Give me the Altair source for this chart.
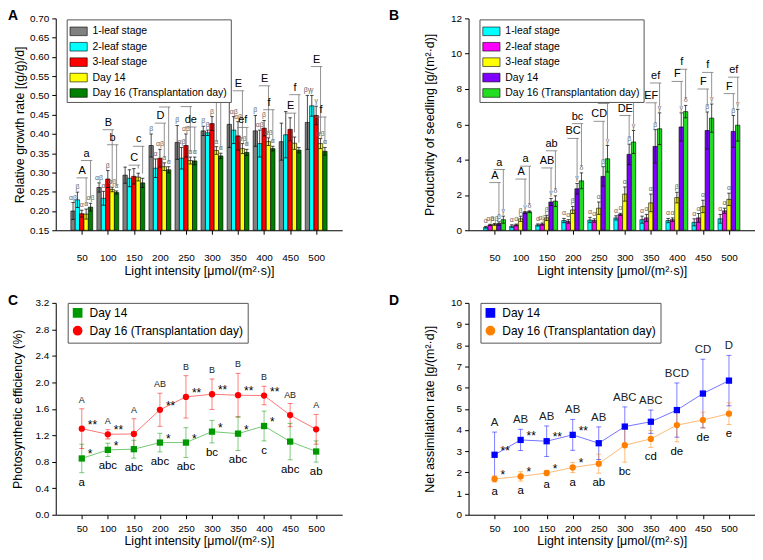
import altair as alt
import pandas as pd

FONT = "Liberation Sans"
light = [50, 100, 150, 200, 250, 300, 350, 400, 450, 500]
x_title = "Light intensity [μmol/(m²·s)]"

# ---------------- Panel A ----------------
a_series = ["1-leaf stage", "2-leaf stage", "3-leaf stage", "Day 14", "Day 16 (Transplantation day)"]
a_colors = ["#808080", "#00FFFF", "#FF0000", "#FFFF00", "#008000"]
a_leaf1 = [0.200, 0.261, 0.293, 0.370, 0.378, 0.408, 0.425, 0.408, 0.380, 0.430]
a_leaf2 = [0.229, 0.233, 0.285, 0.311, 0.337, 0.403, 0.410, 0.375, 0.398, 0.473]
a_leaf3 = [0.193, 0.283, 0.290, 0.337, 0.370, 0.427, 0.395, 0.415, 0.412, 0.448]
a_day14 = [0.192, 0.256, 0.288, 0.315, 0.331, 0.357, 0.362, 0.380, 0.376, 0.375]
a_day16 = [0.210, 0.248, 0.273, 0.307, 0.330, 0.343, 0.352, 0.362, 0.358, 0.355]
a_leaf1_err = [0.022, 0.012, 0.021, 0.030, 0.044, 0.012, 0.060, 0.040, 0.048, 0.070]
a_leaf2_err = [0.020, 0.018, 0.022, 0.024, 0.028, 0.007, 0.035, 0.035, 0.060, 0.027]
a_leaf3_err = [0.009, 0.022, 0.020, 0.023, 0.030, 0.018, 0.037, 0.020, 0.030, 0.024]
a_day14_err = [0.013, 0.006, 0.010, 0.010, 0.009, 0.010, 0.013, 0.010, 0.016, 0.013]
a_day16_err = [0.010, 0.004, 0.012, 0.008, 0.010, 0.007, 0.008, 0.006, 0.007, 0.010]
a_leaf1_sig = ["αβ", "αβ", "", "β", "β", "β", "β", "β", "", "βγ"]
a_leaf2_sig = ["β", "α", "", "α", "αβ", "β", "αβ", "αβ", "", "γ"]
a_leaf3_sig = ["α", "β", "", "αβ", "αβ", "β", "αβ", "β", "", "γ"]
a_day14_sig = ["α", "αβ", "", "α", "α", "α", "αβ", "αβ", "", "αβ"]
a_day16_sig = ["αβ", "α", "", "α", "α", "α", "α", "α", "", "α"]
a_upper = ["A", "B", "C", "D", "D", "E", "E", "E", "E", "E"]
a_upper_level = [0.286, 0.411, 0.319, 0.428, 0.471, 0.484, 0.512, 0.525, 0.454, 0.575]
a_lower = ["a", "b", "c", "d", "de", "ef", "ef", "f", "f", "f"]
a_lower_level = [0.331, 0.372, 0.368, 0.470, 0.418, 0.521, 0.417, 0.463, 0.502, 0.444]

# ---------------- Panel B ----------------
b_series = ["1-leaf stage", "2-leaf stage", "3-leaf stage", "Day 14", "Day 16 (Transplantation day)"]
b_colors = ["#00FFFF", "#FF00FF", "#FFFF00", "#7F00FF", "#22DD22"]
b_leaf1 = [0.17, 0.23, 0.30, 0.55, 0.58, 0.70, 0.60, 0.55, 0.45, 0.65]
b_leaf2 = [0.30, 0.30, 0.35, 0.50, 0.55, 0.90, 0.70, 0.60, 0.70, 1.10]
b_leaf3 = [0.33, 0.65, 0.70, 1.15, 1.25, 2.05, 1.55, 1.85, 1.35, 1.75]
b_day14 = [0.38, 1.00, 1.60, 2.35, 3.05, 4.30, 4.75, 5.85, 5.65, 5.60]
b_day16 = [0.60, 1.05, 1.65, 2.80, 4.05, 5.00, 5.75, 6.72, 6.35, 5.95]
b_leaf1_err = [0.05, 0.08, 0.06, 0.12, 0.15, 0.12, 0.20, 0.12, 0.20, 0.25]
b_leaf2_err = [0.04, 0.05, 0.06, 0.10, 0.10, 0.06, 0.20, 0.10, 0.25, 0.15]
b_leaf3_err = [0.05, 0.15, 0.15, 0.20, 0.35, 0.40, 0.50, 0.30, 0.35, 0.35]
b_day14_err = [0.10, 0.06, 0.20, 0.30, 0.55, 0.58, 0.95, 0.80, 1.05, 0.90]
b_day16_err = [0.20, 0.05, 0.30, 0.45, 0.75, 0.65, 0.90, 0.35, 0.80, 0.90]
b_leaf1_sig = ["α", "α", "α", "α", "α", "α", "α", "α", "α", "α"]
b_leaf2_sig = ["αβ", "α", "αβ", "α", "α", "α", "α", "α", "α", "α"]
b_leaf3_sig = ["αβ", "β", "β", "β", "α", "α", "α", "β", "α", "α"]
b_day14_sig = ["β", "γ", "γ", "γ", "β", "β", "β", "γ", "β", "β"]
b_day16_sig = ["γ", "δ", "δ", "δ", "γ", "γ", "γ", "δ", "γ", "γ"]
b_upper = ["A", "A", "AB", "BC", "CD", "DE", "EF", "F", "F", "F"]
b_upper_level = [2.70, 2.90, 3.53, 5.20, 6.17, 6.50, 7.22, 8.43, 8.00, 7.74]
b_lower = ["a", "a", "ab", "bc", "cd", "de", "ef", "f", "f", "ef"]
b_lower_level = [3.44, 3.63, 4.50, 6.04, 7.18, 7.50, 8.34, 9.12, 8.94, 8.67]

# ---------------- Panel C ----------------
c_series = ["Day 14", "Day 16 (Transplantation day)"]
c_marker_colors = ["#009900", "#FF0000"]
c_day14 = [0.85, 0.98, 0.99, 1.09, 1.09, 1.255, 1.225, 1.34, 1.105, 0.955]
c_day14_err = [0.215, 0.10, 0.135, 0.14, 0.225, 0.17, 0.255, 0.225, 0.275, 0.16]
c_day16 = [1.30, 1.215, 1.22, 1.585, 1.78, 1.82, 1.805, 1.80, 1.505, 1.29]
c_day16_err = [0.30, 0.07, 0.23, 0.25, 0.32, 0.23, 0.33, 0.14, 0.175, 0.225]
c_upper = ["A", "A", "A", "AB", "B", "B", "B", "B", "AB", "A"]
c_lower = ["a", "abc", "abc", "abc", "abc", "bc", "abc", "c", "abc", "ab"]
c_star16 = ["**", "**", "", "**", "**", "**", "**", "**", "", ""]
c_star14 = ["*", "*", "", "*", "*", "*", "*", "*", "", ""]

# ---------------- Panel D ----------------
d_series = ["Day 14", "Day 16 (Transplantation day)"]
d_marker_colors = ["#0000FF", "#FF8000"]
d_day14 = [2.83, 3.53, 3.47, 3.77, 3.375, 4.16, 4.39, 4.94, 5.72, 6.33]
d_day14_err = [1.07, 0.50, 0.72, 0.73, 0.77, 0.93, 0.55, 1.28, 1.62, 1.19]
d_day16 = [1.69, 1.81, 1.97, 2.23, 2.41, 3.28, 3.58, 4.23, 4.47, 4.77]
d_day16_err = [0.15, 0.22, 0.12, 0.24, 0.45, 0.80, 0.40, 0.79, 0.37, 0.51]
d_upper = ["A", "AB", "AB", "AB", "AB", "ABC", "ABC", "BCD", "CD", "D"]
d_lower = ["a", "a", "a", "a", "ab", "bc", "cd", "de", "de", "e"]
d_star14 = ["**", "**", "**", "**", "", "", "", "", "", ""]
d_star16 = ["*", "*", "*", "*", "", "", "", "", "", ""]

W, H = 288, 213
BAR_UNITS = 8.4   # bar spacing in x-axis units
xscale = alt.Scale(domain=[0, 550], nice=False, zero=False, padding=0)


def xaxis(label_pad, title_pad):
    return alt.Axis(values=light, format="d", title=x_title, tickSize=4, labelPadding=label_pad,
                    titlePadding=title_pad, labelFlush=False, labelOverlap=False)


def yaxis(title, values, fmt, tpad):
    return alt.Axis(values=values, format=fmt, title=title, tickSize=4, labelPadding=3,
                    titlePadding=tpad, labelOverlap=False)


def panel_title(letter, dx, offset):
    return alt.TitleParams(letter, anchor="start", frame="group", fontSize=14, fontWeight="bold",
                           font=FONT, offset=offset, dx=dx)


def bar_panel(series, colors, means, errs, sigs, upper, upper_lv, lower, lower_lv,
              ydom, yvals, yfmt, ytitle, letter, tpad, sig_gap, title_dx, lpad, xtpad, toff):
    rows = []
    for k, s in enumerate(series):
        for i, L in enumerate(light):
            rows.append(dict(light=L, series=s, k=k, mean=means[k][i], err=errs[k][i],
                             sig=sigs[k][i]))
    df = pd.DataFrame(rows)
    brows = []
    for i, L in enumerate(light):
        for lab, lv, k in ((upper[i], upper_lv[i], 3), (lower[i], lower_lv[i], 4)):
            brows.append(dict(light=L, k=k, label=lab, level=lv,
                              start=means[k][i] + errs[k][i] + sig_gap))
    bdf = pd.DataFrame(brows)

    ysc = alt.Scale(domain=ydom, nice=False, zero=False)
    xa = xaxis(lpad, xtpad)
    ya = yaxis(ytitle, yvals, yfmt, tpad)

    def X(f):
        return alt.X(f, scale=xscale, axis=xa)

    def Y(f):
        return alt.Y(f, scale=ysc, axis=ya)

    base = alt.Chart(df).transform_calculate(
        xc=f"datum.light + (datum.k - 2) * {BAR_UNITS}",
        lo="datum.mean - datum.err",
        hi="datum.mean + datum.err",
    )
    bars = base.mark_bar(size=4.4, stroke="black", strokeWidth=0.6).encode(
        x=X("xc:Q"), y=Y("mean:Q"), y2=alt.datum(ydom[0]),
        color=alt.Color("series:N", scale=alt.Scale(domain=series, range=colors),
                        legend=alt.Legend(title=None, orient="none", legendX=11, legendY=1,
                                          strokeColor="#555", fillColor="white", padding=3,
                                          rowPadding=0.5, symbolType="M-1,-0.5H1V0.5H-1Z",
                                          symbolSize=300, symbolStrokeColor="black",
                                          symbolStrokeWidth=0.6, labelFontSize=10.5,
                                          labelFont=FONT, labelColor="black", labelOffset=5,
                                          symbolOpacity=1)),
    )
    err = base.mark_rule(color="black", strokeWidth=0.7).encode(x=X("xc:Q"), y=Y("lo:Q"), y2="hi:Q")
    cap_hi = base.mark_point(shape="M-1,0H1", size=12, color="black", strokeWidth=0.7,
                             opacity=1).encode(x=X("xc:Q"), y=Y("hi:Q"))
    cap_lo = base.mark_point(shape="M-1,0H1", size=12, color="black", strokeWidth=0.7,
                             opacity=1).encode(x=X("xc:Q"), y=Y("lo:Q"))
    sig = base.mark_text(fontSize=7, font=FONT, color="#666666", baseline="bottom", dy=-2).encode(
        x=X("xc:Q"), y=Y("hi:Q"), text="sig:N")

    bb = alt.Chart(bdf).transform_calculate(
        xt=f"datum.light + (datum.k - 2) * {BAR_UNITS}",
        xl=f"datum.light + (datum.k - 4.2) * {BAR_UNITS}",
        xr=f"datum.light + (datum.k - 1.6) * {BAR_UNITS}",
        xm=f"datum.light + (datum.k - 2.9) * {BAR_UNITS}",
    )
    hline = bb.mark_rule(color="#777", strokeWidth=0.8).encode(x=X("xl:Q"), x2="xr:Q", y=Y("level:Q"))
    vline = bb.mark_rule(color="#777", strokeWidth=0.8).encode(x=X("xt:Q"), y=Y("start:Q"), y2="level:Q")
    btxt = bb.mark_text(fontSize=11, font=FONT, color="black", baseline="bottom", dy=-2).encode(
        x=X("xm:Q"), y=Y("level:Q"), text="label:N")

    return alt.layer(bars, err, cap_hi, cap_lo, sig, hline, vline, btxt).properties(
        width=W, height=H, title=panel_title(letter, title_dx, toff))


def line_panel(series, mcolors, m14, e14, m16, e16, upper, lower, star_a, star_b,
               star_a_series, star_b_series, ydom, yvals, yfmt, ytitle, letter, tpad,
               upper_size, title_dx, lpad, xtpad, toff):
    rows = []
    for s, m, e in ((series[0], m14, e14), (series[1], m16, e16)):
        for i, L in enumerate(light):
            rows.append(dict(light=L, series=s, mean=m[i], err=e[i]))
    df = pd.DataFrame(rows)
    ann = []
    for i, L in enumerate(light):
        ann.append(dict(light=L, kind="upper", label=upper[i], yv=max(m14[i] + e14[i], m16[i] + e16[i])))
        ann.append(dict(light=L, kind="lower", label=lower[i], yv=min(m14[i] - e14[i], m16[i] - e16[i])))
    adf = pd.DataFrame(ann)
    lookup = dict(zip(series, (m14, m16)))
    srows = []
    for i, L in enumerate(light):
        srows.append(dict(light=L, label=star_a[i], yv=lookup[star_a_series][i]))
        srows.append(dict(light=L, label=star_b[i], yv=lookup[star_b_series][i]))
    sdf = pd.DataFrame(srows)

    ysc = alt.Scale(domain=ydom, nice=False, zero=False)
    xa = xaxis(lpad, xtpad)
    ya = yaxis(ytitle, yvals, yfmt, tpad)

    def X(f):
        return alt.X(f, scale=xscale, axis=xa)

    def Y(f):
        return alt.Y(f, scale=ysc, axis=ya)

    cscale = alt.Scale(domain=series, range=mcolors)
    leg = alt.Legend(title=None, orient="none", legendX=12, legendY=0,
                     strokeColor="#555", fillColor="white", padding=4,
                     rowPadding=2, labelFontSize=12, labelFont=FONT,
                     labelColor="black", symbolSize=60, labelOffset=6,
                     symbolStrokeWidth=2, symbolOpacity=1)

    def COL():
        return alt.Color("series:N", scale=cscale, legend=leg)

    base = alt.Chart(df).transform_calculate(lo="datum.mean - datum.err", hi="datum.mean + datum.err")
    err = base.mark_rule(strokeWidth=1, opacity=0.5).encode(
        x=X("light:Q"), y=Y("lo:Q"), y2="hi:Q", color=COL())
    caps = []
    for fld in ("lo", "hi"):
        caps.append(base.mark_point(shape="M-1,0H1", size=25, strokeWidth=1, opacity=0.5,
                                    filled=False).encode(
            x=X("light:Q"), y=Y(f"{fld}:Q"), color=COL()))
    line = base.mark_line(strokeWidth=1, opacity=0.55).encode(
        x=X("light:Q"), y=Y("mean:Q"), color=COL())
    pts = base.mark_point(filled=True, size=40, opacity=1).encode(
        x=X("light:Q"), y=Y("mean:Q"), color=COL(),
        shape=alt.Shape("series:N", scale=alt.Scale(domain=series, range=["square", "circle"]),
                        legend=None),
    )
    up = alt.Chart(adf).transform_filter("datum.kind == 'upper'").mark_text(
        fontSize=upper_size, font=FONT, color="#222", baseline="bottom", dy=-4).encode(
        x=X("light:Q"), y=Y("yv:Q"), text="label:N")
    low = alt.Chart(adf).transform_filter("datum.kind == 'lower'").mark_text(
        fontSize=11.5, font=FONT, color="black", baseline="top", dy=4).encode(
        x=X("light:Q"), y=Y("yv:Q"), text="label:N")
    stars = alt.Chart(sdf).mark_text(fontSize=12, font=FONT, color="black", align="left",
                                     baseline="middle", dx=6, dy=-4).encode(
        x=X("light:Q"), y=Y("yv:Q"), text="label:N")
    return alt.layer(err, *caps, line, pts, up, low, stars).properties(
        width=W, height=H, title=panel_title(letter, title_dx, toff))


A = bar_panel(a_series, a_colors,
              [a_leaf1, a_leaf2, a_leaf3, a_day14, a_day16],
              [a_leaf1_err, a_leaf2_err, a_leaf3_err, a_day14_err, a_day16_err],
              [a_leaf1_sig, a_leaf2_sig, a_leaf3_sig, a_day14_sig, a_day16_sig],
              a_upper, a_upper_level, a_lower, a_lower_level,
              [0.15, 0.70], [round(0.15 + 0.05 * i, 2) for i in range(12)], ".2f",
              "Relative growth rate [(g/g)/d]", "A", 3, 0.012, -48, 18, 2, -10)
B = bar_panel(b_series, b_colors,
              [b_leaf1, b_leaf2, b_leaf3, b_day14, b_day16],
              [b_leaf1_err, b_leaf2_err, b_leaf3_err, b_day14_err, b_day16_err],
              [b_leaf1_sig, b_leaf2_sig, b_leaf3_sig, b_day14_sig, b_day16_sig],
              b_upper, b_upper_level, b_lower, b_lower_level,
              [0, 12], [0, 2, 4, 6, 8, 10, 12], "d",
              "Productivity of seedling [g/(m²·d)]", "B", 14, 0.35, -80, 18, 2, -10)
C = line_panel(c_series, c_marker_colors, c_day14, c_day14_err, c_day16, c_day16_err,
               c_upper, c_lower, c_star14, c_star16, "Day 14", "Day 16 (Transplantation day)",
               [0, 3.2], [round(0.4 * i, 1) for i in range(9)], ".1f",
               "Photosynthetic efficiency (%)", "C", 11, 9, -48, 5, 1, -10)
D = line_panel(d_series, d_marker_colors, d_day14, d_day14_err, d_day16, d_day16_err,
               d_upper, d_lower, d_star14, d_star16, "Day 14", "Day 16 (Transplantation day)",
               [0, 10], list(range(11)), "d",
               "Net assimilation rate [g/(m²·d)]", "D", 14, 11.5, -80, 5, 1, -10)

top = alt.hconcat(A, B, spacing=47).resolve_scale(color="independent", shape="independent")
bottom = alt.hconcat(C, D, spacing=47).resolve_scale(color="independent", shape="independent")
chart = alt.vconcat(top, bottom, spacing=17).resolve_scale(
    color="independent", shape="independent"
).properties(padding={"left": 0, "top": 0, "right": 0, "bottom": 0}).configure(
    font=FONT
).configure_view(stroke=None).configure_axis(
    grid=False, domainColor="black", tickColor="black", labelColor="black", titleColor="black",
    labelFont=FONT, titleFont=FONT, labelFontSize=10, titleFontSize=12.5, titleFontWeight="normal",
    domainWidth=1, tickWidth=1, labelOverlap=False,
)

chart.save("out.html", embed_options={"renderer": "svg", "actions": False})
